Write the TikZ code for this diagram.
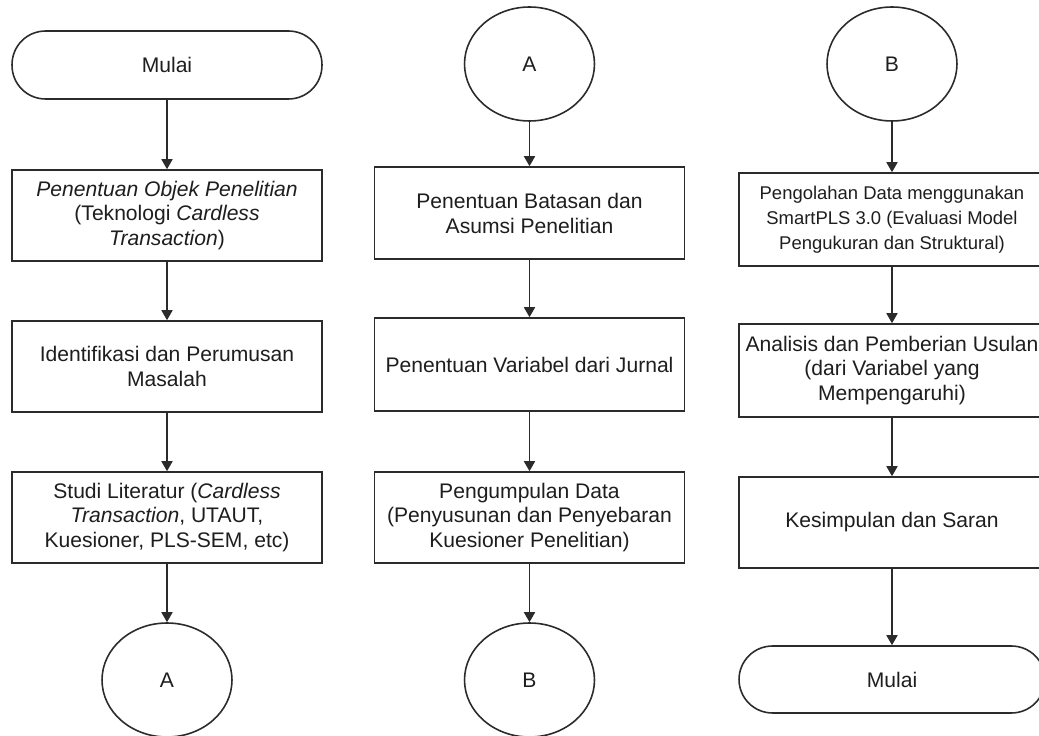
\documentclass[tikz,border=0pt]{standalone}
\usepackage{fontspec}
\setmainfont{Liberation Sans}
\usepackage{xcolor}
\usepackage{tikz}
\usetikzlibrary{shapes.geometric,arrows.meta}
\definecolor{garisGelap}{HTML}{2B2B2B}
\definecolor{teksGelap}{HTML}{1E1E1E}

\tikzset{
  langkah/.style={draw=garisGelap, line width=0.9pt, rectangle, minimum width=6.2cm, minimum height=1.82cm, inner sep=0pt, align=center, text=teksGelap, font=\fontsize{12}{14.2}\selectfont},
  terminal/.style={langkah, rounded corners=0.67cm, minimum height=1.36cm},
  konektor/.style={draw=garisGelap, line width=0.9pt, ellipse, minimum width=2.6cm, minimum height=2.28cm, inner sep=0pt, text=teksGelap, font=\fontsize{12}{14.2}\selectfont},
  panah/.style={draw=garisGelap, line width=0.9pt, -{Triangle[length=0.2cm,width=0.22cm]}}
}

\begin{document}
\begin{tikzpicture}[x=0.02cm, y=-0.02cm]
  \useasboundingbox (0,0) rectangle (1039,736);
  \fill[white] (0,0) rectangle (1039,736);

  % kolom kiri
  \node[terminal] (mulaiAwal) at (167, 65) {Mulai};
  \node[langkah] (objek) at (167, 215.5) {\textit{Penentuan Objek Penelitian}\\(Teknologi \textit{Cardless}\\\textit{Transaction})};
  \node[langkah] (identifikasi) at (167, 366.5) {Identifikasi dan Perumusan\\Masalah};
  \node[langkah] (literatur) at (167, 517.5) {Studi Literatur (\textit{Cardless}\\\textit{Transaction}, UTAUT,\\Kuesioner, PLS-SEM, etc)};
  \node[konektor] (keA) at (167, 680) {A};

  % kolom tengah
  \node[konektor] (dariA) at (529.5, 64) {A};
  \node[langkah, minimum height=1.84cm] (batasan) at (529.5, 213) {Penentuan Batasan dan\\Asumsi Penelitian};
  \node[langkah, minimum height=1.86cm] (variabel) at (529.5, 364.5) {Penentuan Variabel dari Jurnal};
  \node[langkah] (kumpulData) at (529.5, 517.5) {Pengumpulan Data\\(Penyusunan dan Penyebaran\\Kuesioner Penelitian)};
  \node[konektor] (keB) at (529.5, 680) {B};

  % kolom kanan
  \node[konektor] (dariB) at (892, 64) {B};
  \node[langkah, minimum width=6.12cm, minimum height=1.86cm, font=\fontsize{10.5}{14.2}\selectfont] (olahData) at (892, 219.5) {Pengolahan Data menggunakan\\SmartPLS 3.0 (Evaluasi Model\\Pengukuran dan Struktural)};
  \node[langkah, minimum width=6.12cm, minimum height=1.86cm] (analisis) at (892, 370.5) {Analisis dan Pemberian Usulan\\(dari Variabel yang\\Mempengaruhi)};
  \node[langkah, minimum width=6.12cm] (kesimpulan) at (892, 522.5) {Kesimpulan dan Saran};
  \node[terminal, minimum width=6.12cm, minimum height=1.34cm] (mulaiAkhir) at (892, 679.5) {Mulai};

  \draw[panah] (mulaiAwal) -- (objek);
  \draw[panah] (objek) -- (identifikasi);
  \draw[panah] (identifikasi) -- (literatur);
  \draw[panah] (literatur) -- (keA);

  \draw[panah] (dariA) -- (batasan);
  \draw[panah] (batasan) -- (variabel);
  \draw[panah] (variabel) -- (kumpulData);
  \draw[panah] (kumpulData) -- (keB);

  \draw[panah] (dariB) -- (olahData);
  \draw[panah] (olahData) -- (analisis);
  \draw[panah] (analisis) -- (kesimpulan);
  \draw[panah] (kesimpulan) -- (mulaiAkhir);
\end{tikzpicture}
\end{document}
